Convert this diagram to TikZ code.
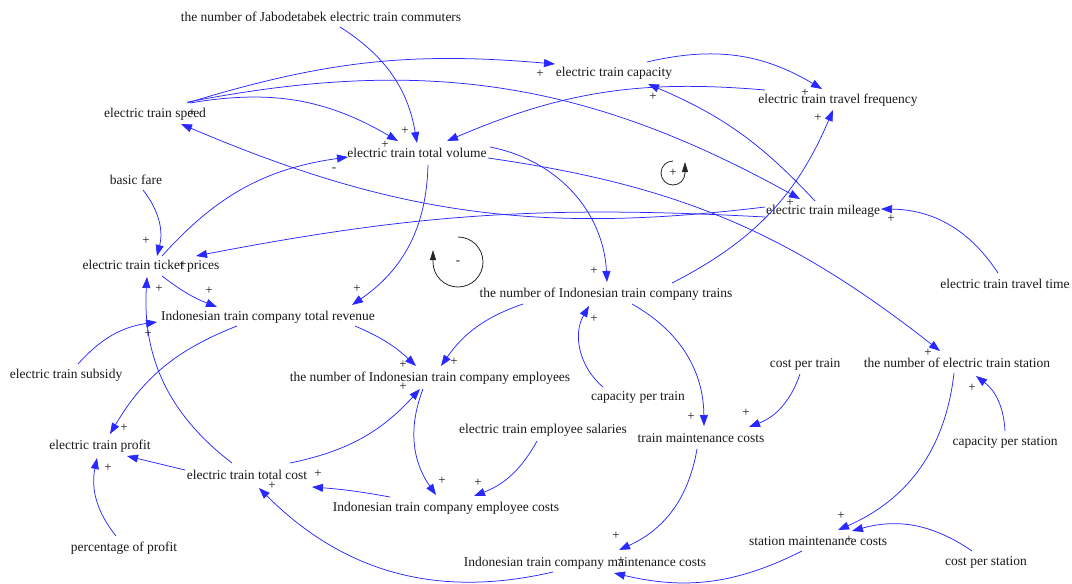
\documentclass[tikz,border=0pt]{standalone}
\usepackage{fontspec}
\setmainfont{Liberation Serif}
\usetikzlibrary{arrows.meta,calc}
\definecolor{linkblue}{RGB}{40,40,255}

\begin{document}
\begin{tikzpicture}[x=1pt,y=-1pt,
  var/.style={font=\fontsize{13.5}{16}\selectfont, inner sep=1pt, text=black!90},
  sgn/.style={font=\fontsize{13}{15}\selectfont, inner sep=0pt, text=black!90},
  link/.style={draw=linkblue, line width=0.75pt, -{Triangle[length=11pt,width=8pt]}},
  loopline/.style={draw=black!85, line width=0.8pt, -{Triangle[length=10pt,width=6pt]}}]
\useasboundingbox (0,0) rectangle (1072,584);

% variables
\node[var] (jab)      at (321,17)  {the number of Jabodetabek electric train commuters};
\node[var] (cap)      at (614,73)  {electric train capacity};
\node[var] (freq)     at (838,100) {electric train travel frequency};
\node[var] (speed)    at (155,114) {electric train speed};
\node[var] (vol)      at (417,153) {electric train total volume};
\node[var] (fare)     at (136,180) {basic fare};
\node[var] (mileage)  at (823,211) {electric train mileage};
\node[var] (ticket)   at (151,266) {electric train ticket prices};
\node[var] (trains)   at (606,294) {the number of Indonesian train company trains};
\node[var] (ttime)    at (1005,284) {electric train travel time};
\node[var] (revenue)  at (268,317) {Indonesian train company total revenue};
\node[var] (subsidy)  at (66,375)  {electric train subsidy};
\node[var] (employees) at (430,378) {the number of Indonesian train company employees};
\node[var] (costtrain) at (805,364) {cost per train};
\node[var] (station)  at (957,363) {the number of electric train station};
\node[var] (captrain) at (638,397) {capacity per train};
\node[var] (profit)   at (100,446) {electric train profit};
\node[var] (salaries) at (543,430) {electric train employee salaries};
\node[var] (maintc)   at (701,438) {train maintenance costs};
\node[var] (capst)    at (1005,442) {capacity per station};
\node[var] (tcost)    at (247,475) {electric train total cost};
\node[var] (empc)     at (446,508) {Indonesian train company employee costs};
\node[var] (pct)      at (124,548) {percentage of profit};
\node[var] (stmaint)  at (818,541) {station maintenance costs};
\node[var] (costst)   at (986,562) {cost per station};
\node[var] (maintot)  at (585,563) {Indonesian train company maintenance costs};

% causal links
\draw[link] ($(jab)+(19,10)$) to[bend left=24] ($(vol)+(0,-10)$);
\draw[link] ($(speed)+(32,-11)$) to[bend left=11] ($(cap)+(-59,-9)$);
\draw[link] ($(speed)+(35,-11)$) to[bend left=20] ($(vol)+(-19,-12)$);
\draw[link] ($(speed)+(33,-12)$) to[bend left=20] ($(mileage)+(-23,-12)$);
\draw[link] ($(mileage)+(-58,-4)$) to[bend left=15] ($(speed)+(26,10)$);
\draw[link] ($(mileage)+(-58,6)$) to[bend right=7] ($(ticket)+(45,-10)$);
\draw[link] ($(freq)+(-73,-10)$) to[bend right=14] ($(vol)+(30,-12)$);
\draw[link] ($(cap)+(33,-11)$) to[bend left=22] ($(freq)+(-16,-11)$);
\draw[link] ($(mileage)+(-8,-10)$) to[bend right=12] ($(cap)+(34,11)$);
\draw[link] ($(trains)+(66,-11)$) to[bend right=20] ($(freq)+(-5,10)$);
\draw[link] ($(vol)+(73,-6)$) to[bend left=38] ($(trains)+(1,-12)$);
\draw[link] ($(vol)+(71,5)$) to[bend left=15] ($(station)+(-17,-12)$);
\draw[link] ($(vol)+(11,12)$) to[bend left=27] ($(revenue)+(84,-12)$);
\draw[link] ($(fare)+(7,10)$) to[bend left=26] ($(ticket)+(6,-10)$);
\draw[link] ($(ticket)+(11,-10)$) to[bend left=20] ($(vol)+(-69,4)$);
\draw[link] ($(ticket)+(11,10)$) to[bend right=8] ($(revenue)+(-51,-10)$);
\draw[link] ($(subsidy)+(12,-11)$) to[bend left=20] ($(revenue)+(-111,5)$);
\draw[link] ($(tcost)+(-15,-12)$) to[bend left=28] ($(ticket)+(-4,11)$);
\draw[link] ($(revenue)+(-31,9)$) to[bend right=19] ($(profit)+(10,-12)$);
\draw[link] ($(revenue)+(87,9)$) to[bend left=10] ($(employees)+(-14,-12)$);
\draw[link] ($(trains)+(-83,10)$) to[bend right=18] ($(employees)+(11,-12)$);
\draw[link] ($(employees)+(-7,11)$) to[bend right=28] ($(empc)+(-10,-13)$);
\draw[link] ($(tcost)+(43,-12)$) to[bend right=18] ($(employees)+(-10,11)$);
\draw[link] ($(salaries)+(-6,11)$) to[bend left=20] ($(empc)+(28,-12)$);
\draw[link] ($(empc)+(-56,-11)$) to[bend right=3] ($(tcost)+(65,12)$);
\draw[link] ($(tcost)+(-62,-5)$) -- ($(profit)+(27,10)$);
\draw[link] ($(pct)+(-8,-12)$) to[bend left=25] ($(profit)+(-3,12)$);
\draw[link] ($(maintot)+(-32,9)$) to[bend left=29] ($(tcost)+(12,13)$);
\draw[link] ($(trains)+(26,10)$) to[bend left=30] ($(maintc)+(3,-12)$);
\draw[link] ($(captrain)+(-35,-10)$) to[bend left=40] ($(trains)+(-17,12)$);
\draw[link] ($(costtrain)+(-5,10)$) to[bend left=25] ($(maintc)+(48,-11)$);
\draw[link] ($(maintc)+(-4,11)$) to[bend left=28] ($(maintot)+(34,-13)$);
\draw[link] ($(station)+(-3,10)$) to[bend left=30] ($(stmaint)+(20,-11)$);
\draw[link] ($(capst)+(0,-11)$) to[bend right=25] ($(station)+(19,13)$);
\draw[link] ($(costst)+(-14,-11)$) to[bend right=25] ($(stmaint)+(34,-10)$);
\draw[link] ($(stmaint)+(-16,10)$) to[bend left=20] ($(maintot)+(29,10)$);
\draw[link] ($(ttime)+(-7,-11)$) to[bend right=28] ($(mileage)+(58,-2)$);

% link polarities
\node[sgn] (s1)  at (540,74)  {+};
\node[sgn] (s2)  at (653,97)  {+};
\node[sgn] (s3)  at (805,93)  {+};
\node[sgn] (s4)  at (818,118) {+};
\node[sgn] (s5)  at (405,131) {+};
\node[sgn] (s6)  at (385,145) {+};
\node[sgn] (s7)  at (334,170) {-};
\node[sgn] (s8)  at (790,203) {+};
\node[sgn] (s9)  at (891,219) {+};
\node[sgn] (s10) at (146,241) {+};
\node[sgn] (s11) at (159,289) {+};
\node[sgn] (s12) at (209,291) {+};
\node[sgn] (s13) at (357,289) {+};
\node[sgn] (s14) at (148,334) {+};
\node[sgn] (s15) at (594,271) {+};
\node[sgn] (s16) at (594,319) {+};
\node[sgn] (s17) at (403,365) {+};
\node[sgn] (s18) at (454,362) {+};
\node[sgn] (s19) at (403,387) {+};
\node[sgn] (s20) at (928,353) {+};
\node[sgn] (s21) at (972,388) {+};
\node[sgn] (s22) at (124,428) {+};
\node[sgn] (s23) at (108,468) {+};
\node[sgn] (s24) at (442,481) {+};
\node[sgn] (s25) at (478,483) {+};
\node[sgn] (s26) at (318,474) {+};
\node[sgn] (s27) at (272,486) {+};
\node[sgn] (s28) at (691,417) {+};
\node[sgn] (s29) at (746,413) {+};
\node[sgn] (s30) at (616,536) {+};
\node[sgn] (s31) at (841,516) {+};
\node[sgn] (s32) at (192,113) {+};
\node[sgn] (s33) at (183,265) {+};
\node[sgn] (s34) at (849,540) {+};
\node[sgn] (s35) at (621,561) {+};

% loop markers
\draw[loopline] (458,237) arc[start angle=-90, end angle=180, radius=25] -- ++(0,-12);
\node[sgn] (loopneg) at (458,263) {-};
\draw[loopline] (673,161) arc[start angle=-90, end angle=-360, radius=12] -- ++(0,-11);
\node[sgn] (looppos) at (673,173) {+};
\end{tikzpicture}
\end{document}
